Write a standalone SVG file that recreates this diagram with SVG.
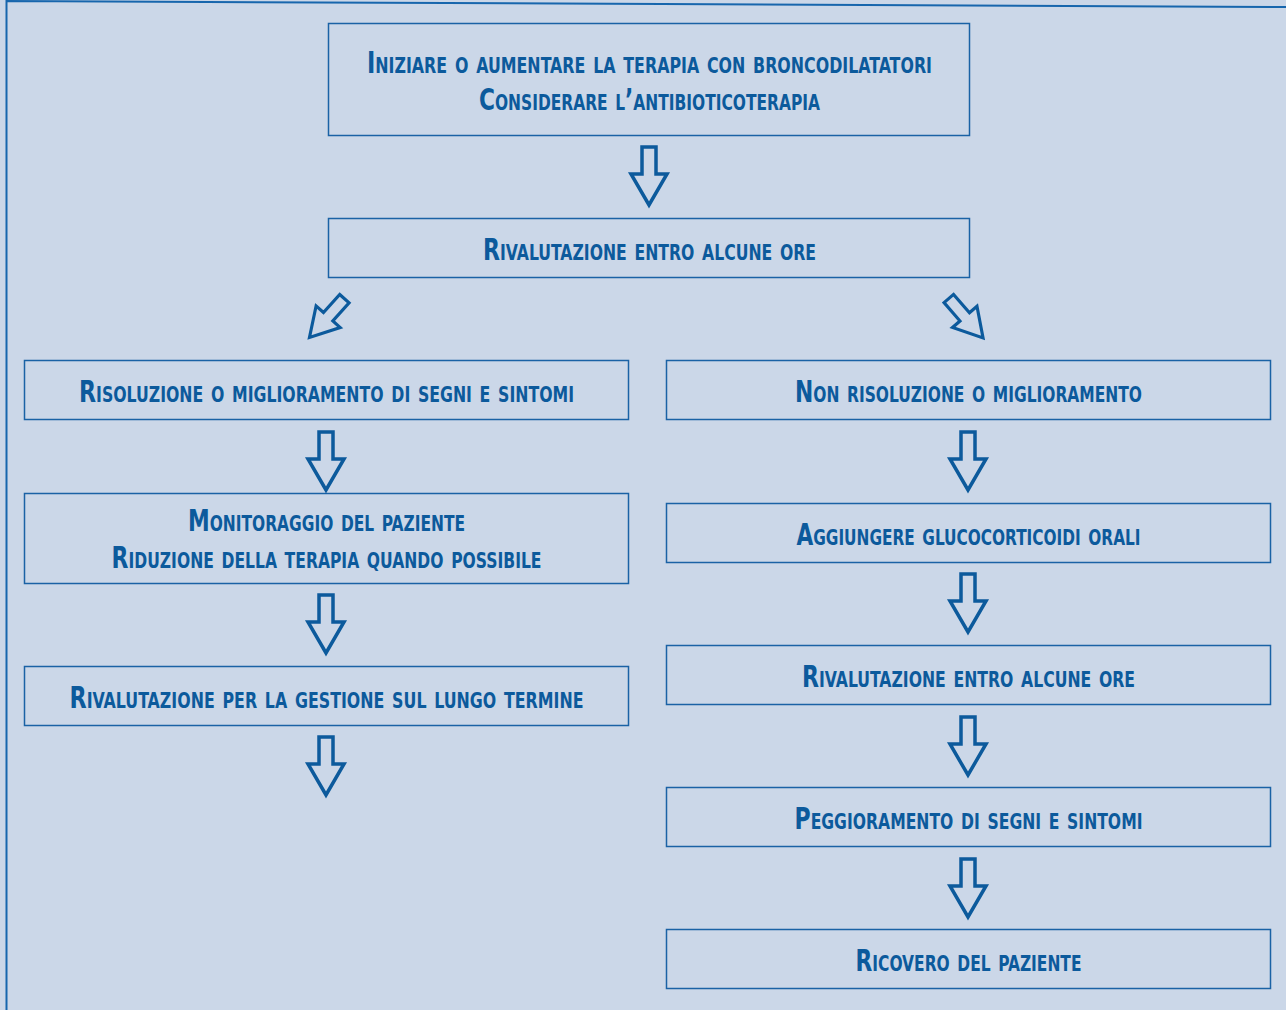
<svg xmlns="http://www.w3.org/2000/svg" width="1286" height="1010" viewBox="0 0 1286 1010">
  <style>
    .bg { fill: #cbd7e8; }
    .frame { fill: none; stroke: #1766ad; stroke-width: 2; }
    .box { fill: #cbd7e8; stroke: #1a62a5; stroke-width: 1.5; }
    .t { font-family: "Liberation Sans Narrow", "DejaVu Sans Condensed", "Liberation Sans", sans-serif; font-stretch: condensed; font-weight: bold; font-size: 31px; font-variant: small-caps; fill: #0c5a9c; text-anchor: middle; }
    .arr { fill: none; stroke: #0c5a9c; stroke-width: 3.5; stroke-linejoin: miter; stroke-miterlimit: 10; }
  </style>
  <defs>
    <path id="arrow" class="arr" d="M -7,0 H 7 V 27 H 18 L 0,58 L -18,27 H -7 Z"/>
  </defs>
  <rect class="bg" x="0" y="0" width="1286" height="1010"/>
  <path class="frame" d="M 6.5,1010 V 1 L 1286,7"/>

  <g id="n1">
    <rect class="box" x="328.5" y="23.5" width="641" height="112"/>
    <text class="t" x="649.5" y="73" textLength="565" lengthAdjust="spacingAndGlyphs">Iniziare o aumentare la terapia con broncodilatatori</text>
    <text class="t" x="649.5" y="110" textLength="341" lengthAdjust="spacingAndGlyphs">Considerare l’antibioticoterapia</text>
  </g>
  <g id="n2">
    <rect class="box" x="328.5" y="218.5" width="641" height="59"/>
    <text class="t" x="649.5" y="260" textLength="333" lengthAdjust="spacingAndGlyphs">Rivalutazione entro alcune ore</text>
  </g>
  <g id="nL1">
    <rect class="box" x="24.5" y="360.5" width="604" height="59"/>
    <text class="t" x="326.5" y="402" textLength="495" lengthAdjust="spacingAndGlyphs">Risoluzione o miglioramento di segni e sintomi</text>
  </g>
  <g id="nL2">
    <rect class="box" x="24.5" y="493.5" width="604" height="90"/>
    <text class="t" x="326.5" y="531" textLength="277" lengthAdjust="spacingAndGlyphs">Monitoraggio del paziente</text>
    <text class="t" x="326.5" y="568" textLength="430" lengthAdjust="spacingAndGlyphs">Riduzione della terapia quando possibile</text>
  </g>
  <g id="nL3">
    <rect class="box" x="24.5" y="666.5" width="604" height="59"/>
    <text class="t" x="326.5" y="708" textLength="514" lengthAdjust="spacingAndGlyphs">Rivalutazione per la gestione sul lungo termine</text>
  </g>
  <g id="nR1">
    <rect class="box" x="666.5" y="360.5" width="604" height="59"/>
    <text class="t" x="968.5" y="402" textLength="347" lengthAdjust="spacingAndGlyphs">Non risoluzione o miglioramento</text>
  </g>
  <g id="nR2">
    <rect class="box" x="666.5" y="503.5" width="604" height="59"/>
    <text class="t" x="968.5" y="545" textLength="344" lengthAdjust="spacingAndGlyphs">Aggiungere glucocorticoidi orali</text>
  </g>
  <g id="nR3">
    <rect class="box" x="666.5" y="645.5" width="604" height="59"/>
    <text class="t" x="968.5" y="687" textLength="333" lengthAdjust="spacingAndGlyphs">Rivalutazione entro alcune ore</text>
  </g>
  <g id="nR4">
    <rect class="box" x="666.5" y="787.5" width="604" height="59"/>
    <text class="t" x="968.5" y="829" textLength="348" lengthAdjust="spacingAndGlyphs">Peggioramento di segni e sintomi</text>
  </g>
  <g id="nR5">
    <rect class="box" x="666.5" y="929.5" width="604" height="59"/>
    <text class="t" x="968.5" y="971" textLength="226" lengthAdjust="spacingAndGlyphs">Ricovero del paziente</text>
  </g>

  <g id="connectors">
    <use href="#arrow" transform="translate(649,147)"/>
    <use href="#arrow" transform="translate(344.4,298.7) rotate(42) scale(0.9)"/>
    <use href="#arrow" transform="translate(948.8,298.5) rotate(-41) scale(0.9)"/>
    <use href="#arrow" transform="translate(326,432)"/>
    <use href="#arrow" transform="translate(326,595)"/>
    <use href="#arrow" transform="translate(326,737)"/>
    <use href="#arrow" transform="translate(968,432)"/>
    <use href="#arrow" transform="translate(968,574)"/>
    <use href="#arrow" transform="translate(968,717)"/>
    <use href="#arrow" transform="translate(968,859)"/>
  </g>
</svg>
